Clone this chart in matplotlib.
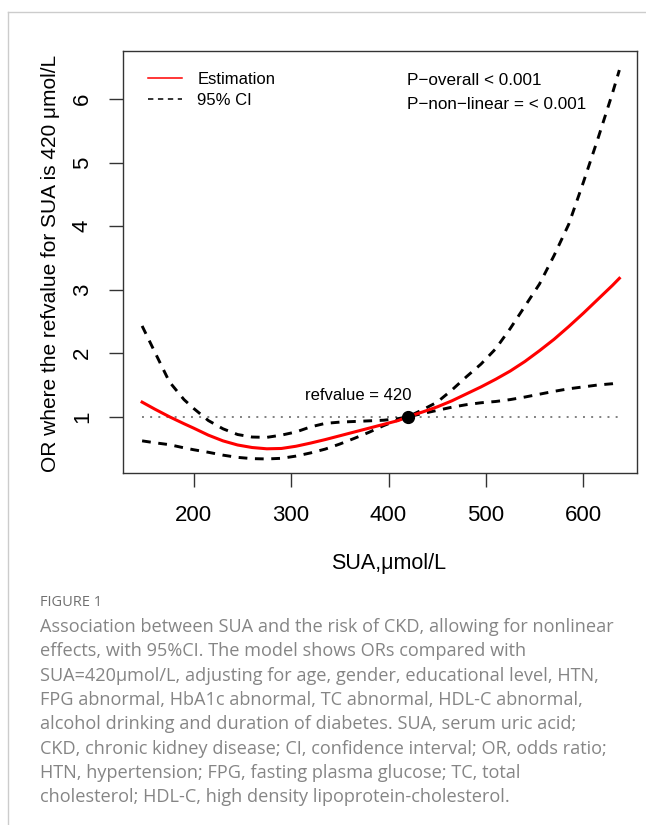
import numpy as np
import matplotlib
matplotlib.use("Agg")
import matplotlib.pyplot as plt
from matplotlib.lines import Line2D

plt.rcParams['font.family'] = ['Liberation Sans', 'DejaVu Sans']

# values
sua = [147, 160, 175, 190, 200, 215, 230, 245, 260, 275, 290, 305, 320, 335,
       350, 365, 380, 395, 410, 420, 435, 450, 465, 480, 495, 510, 525, 540,
       555, 570, 585, 600, 615, 630, 637]
or_est = [1.23, 1.12, 1.00, 0.89, 0.82, 0.71, 0.62, 0.555, 0.515, 0.495, 0.50,
          0.535, 0.585, 0.64, 0.70, 0.76, 0.82, 0.88, 0.94, 1.00, 1.075, 1.155,
          1.25, 1.36, 1.47, 1.59, 1.72, 1.87, 2.04, 2.22, 2.42, 2.63, 2.85,
          3.07, 3.18]
ci_upper = [2.43, 2.02, 1.55, 1.27, 1.13, 0.94, 0.81, 0.72, 0.68, 0.675, 0.71,
            0.76, 0.84, 0.895, 0.915, 0.925, 0.935, 0.945, 0.97, 1.00, 1.11,
            1.23, 1.42, 1.63, 1.83, 2.07, 2.39, 2.74, 3.09, 3.54, 4.03, 4.69,
            5.38, 6.10, 6.46]
ci_lower = [0.62, 0.59, 0.56, 0.51, 0.48, 0.44, 0.395, 0.36, 0.34, 0.335,
            0.345, 0.38, 0.43, 0.49, 0.57, 0.66, 0.755, 0.86, 0.95, 1.00,
            1.05, 1.10, 1.15, 1.19, 1.22, 1.24, 1.27, 1.31, 1.355, 1.40, 1.44,
            1.47, 1.50, 1.52, 1.535]
ref_value = 420
p_overall = "P\u2212overall < 0.001"
p_nonlinear = "P\u2212non\u2212linear = < 0.001"
x_ticks = [200, 300, 400, 500, 600]
y_ticks = [1, 2, 3, 4, 5, 6]

caption_title = "FIGURE 1"
caption_lines = [
    "Association between SUA and the risk of CKD, allowing for nonlinear",
    "effects, with 95%CI. The model shows ORs compared with",
    "SUA=420\u03bcmol/L, adjusting for age, gender, educational level, HTN,",
    "FPG abnormal, HbA1c abnormal, TC abnormal, HDL-C abnormal,",
    "alcohol drinking and duration of diabetes. SUA, serum uric acid;",
    "CKD, chronic kidney disease; CI, confidence interval; OR, odds ratio;",
    "HTN, hypertension; FPG, fasting plasma glucose; TC, total",
    "cholesterol; HDL-C, high density lipoprotein-cholesterol.",
]

W, H = 646, 825
fig = plt.figure(figsize=(W / 100, H / 100), dpi=100)

# page frame lines
fig.add_artist(Line2D([8 / W, 1], [1 - 12 / H] * 2, color='#cccccc', lw=1))
fig.add_artist(Line2D([8 / W] * 2, [0, 1 - 12 / H], color='#cccccc', lw=1))

ax = fig.add_axes([123.5 / W, 1 - 473.3 / H, 513.2 / W, 422.3 / H])

ax.plot(sua, [1] * len(sua), color='#808080', lw=1.4, dashes=(1, 3.2))
ax.plot(sua, ci_upper, color='black', lw=2.1, dashes=(3.0, 2.6))
ax.plot(sua, ci_lower, color='black', lw=2.1, dashes=(3.0, 2.6))
ax.plot(sua, or_est, color='red', lw=2.2)
ax.plot([ref_value], [1], 'o', color='black', ms=8.5)
ax.text(368.7, 1.34, "refvalue = %d" % ref_value, fontsize=12,
        ha='center', va='center')

ax.set_xlim(127.9, 654.8)
ax.set_ylim(0.109, 6.76)
ax.set_xticks(x_ticks)
ax.set_yticks(y_ticks)
for s in ax.spines.values():
    s.set_color('#333333')
    s.set_linewidth(1.0)
ax.tick_params(axis='both', length=10, width=1.0, color='#333333',
               labelsize=16)
ax.tick_params(axis='x', pad=13)
ax.tick_params(axis='y', pad=12, labelrotation=90)
for lab in ax.get_yticklabels():
    lab.set_va('center')

handles = [Line2D([], [], color='red', lw=1.1),
           Line2D([], [], color='black', lw=1.1, dashes=(3.5, 3))]
ax.legend(handles, ["Estimation", "95% CI"], loc='upper left',
          bbox_to_anchor=((148 - 123.5) / 513.2, 0.951), frameon=False,
          fontsize=12, borderpad=0, borderaxespad=0, handlelength=2.05,
          handletextpad=0.9, labelspacing=0.38)
ax.text(0.5515, 0.9300, p_overall, transform=ax.transAxes, fontsize=12.3,
        va='center')
ax.text(0.5515, 0.8730, p_nonlinear, transform=ax.transAxes, fontsize=12.3,
        va='center')

fig.text(389 / W, 1 - 563 / H, "SUA,\u03bcmol/L", fontsize=15.5,
         ha='center', va='center')
fig.text(51 / W, 1 - 263 / H, "OR where the refvalue for SUA is 420 \u03bcmol/L",
         fontsize=15, rotation=90, ha='center', va='center')

# caption
fig.text(40 / W, 1 - 603 / H, caption_title, fontsize=10.5, color='#707070',
         family='Open Sans', va='center')
for i, line in enumerate(caption_lines):
    fig.text(40 / W, 1 - (627 + 24.3 * i) / H, line, fontsize=13.1,
             color='#858585', family='Open Sans', va='center')

fig.savefig("out.png", dpi=100)
